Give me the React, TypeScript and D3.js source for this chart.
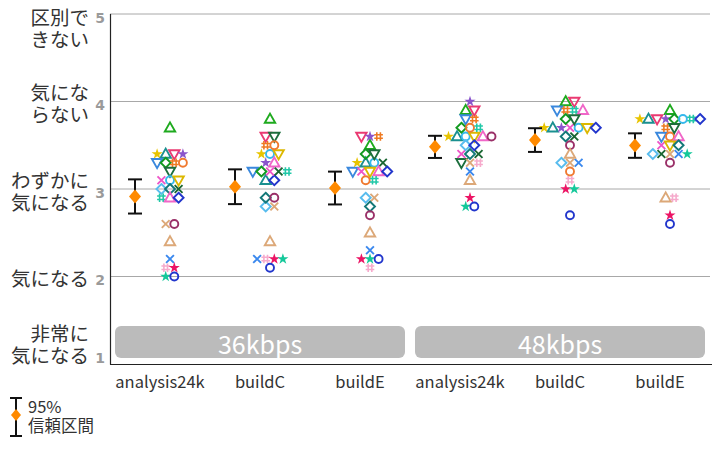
import * as d3 from "d3"

// conditions along x, two bitrate bands of three
const conditions = ["analysis24k", "buildC", "buildE", "analysis24k", "buildC", "buildE"]
const bitrates = ["36kbps", "48kbps"]

const yTicks = [1, 2, 3, 4, 5]
const yTickLabels = [
  ["非常に", "気になる"],
  ["気になる"],
  ["わずかに", "気になる"],
  ["気にな", "らない"],
  ["区別で", "きない"],
]

// one marker per listener (shape + colour)
const markerShapes = [
  "triUp", "star", "triUp", "triDown", "star", "triDown", "diamond", "hash", "circle",
  "triDown", "x", "circle", "triDown", "diamond", "diamond", "x", "hash", "triUp",
  "diamond", "x", "circle", "triUp", "x", "hash", "star", "star", "circle",
]
const markerColors = [
  "#1eaa1e", "#e8c400", "#1a9090", "#ea3a72", "#8a55cc", "#3a88dd", "#129a20", "#ee7a22", "#f07a30",
  "#1c6e3c", "#ee55c8", "#36b8ec", "#dcb800", "#58bcee", "#137878", "#1a6632", "#22c8a8", "#f066c8",
  "#2236cc", "#dca878", "#9a3068", "#dca878", "#3a88ee", "#f6aacc", "#ec1464", "#14c89a", "#2236cc",
]

// scores per condition, in listener order
const scores36Analysis = [3.7, 3.4, 3.4, 3.4, 3.4, 3.3, 3.3, 3.3, 3.3, 3.2, 3.1, 3.1, 3.1, 3.0, 3.0, 3.0, 2.9, 2.9, 2.9, 2.6, 2.6, 2.4, 2.2, 2.1, 2.1, 2.0, 2.0]
const scores36BuildC = [3.8, 3.4, 3.1, 3.6, 3.3, 3.2, 3.2, 3.5, 3.5, 3.6, 3.2, 3.4, 3.4, 2.8, 2.9, 3.2, 3.2, 3.3, 3.1, 2.8, 2.9, 2.4, 2.2, 2.2, 2.2, 2.2, 2.1]
const scores36BuildE = [3.5, 3.3, 3.3, 3.6, 3.6, 3.2, 3.4, 3.6, 3.1, 3.4, 3.2, 3.3, 3.2, 2.9, 2.8, 3.3, 3.1, 3.2, 3.2, 2.9, 2.7, 2.5, 2.3, 2.1, 2.2, 2.2, 2.2]
const scores48Analysis = [3.9, 3.6, 3.6, 3.9, 4.0, 3.8, 3.7, 3.8, 3.7, 3.3, 3.4, 3.6, 3.6, 3.5, 3.4, 3.4, 3.7, 3.6, 3.5, 3.3, 3.6, 3.1, 3.2, 3.3, 2.9, 2.8, 2.8]
const scores48BuildC = [4.0, 3.7, 3.7, 4.0, 3.7, 3.9, 3.8, 3.9, 3.2, 3.8, 3.7, 3.7, 3.7, 3.3, 3.6, 3.6, 3.9, 3.9, 3.7, 3.3, 3.5, 3.4, 3.3, 3.1, 3.0, 3.0, 2.7]
const scores48BuildE = [3.9, 3.8, 3.8, 3.8, 3.8, 3.6, 3.8, 3.7, 3.6, 3.7, 3.5, 3.8, 3.5, 3.4, 3.5, 3.4, 3.8, 3.6, 3.8, 3.4, 3.3, 2.9, 3.4, 2.9, 2.7, 3.4, 2.6]

const allScores = [scores36Analysis, scores36BuildC, scores36BuildE, scores48Analysis, scores48BuildC, scores48BuildE]

const W = 720
const H = 450
const JP = "'Noto Sans CJK JP', 'Noto Sans', sans-serif"
// latin font first keeps the line box tight; kana/kanji fall back to Noto CJK
const JP_TIGHT = "'DejaVu Sans', 'Noto Sans CJK JP', sans-serif"

function markerPath(shape: string): string {
  switch (shape) {
    case "triUp":
      return "M0,-5.4L5.2,3.7L-5.2,3.7Z"
    case "triDown":
      return "M0,5.4L5.2,-3.7L-5.2,-3.7Z"
    case "diamond":
      return "M0,-5L5,0L0,5L-5,0Z"
    case "x":
      return "M-3.9,-3.9L3.9,3.9M3.9,-3.9L-3.9,3.9"
    case "hash":
      return "M-1.8,-4.3L-1.8,4.3M1.8,-4.3L1.8,4.3M-4.3,-1.8L4.3,-1.8M-4.3,1.8L4.3,1.8"
    case "star":
      return d3.symbol().type(d3.symbolStar).size(38)() || ""
    default:
      return d3.symbol().type(d3.symbolCircle).size(50)() || ""
  }
}

export default function App() {
  const x = d3.scaleBand<number>().domain(d3.range(conditions.length)).range([110, 710])
  const y = d3.scaleLinear().domain([1, 5]).range([364, 14])
  const bw = x.bandwidth()
  const tCrit = 2.056

  const stats = allScores.map((s) => {
    const m = d3.mean(s) as number
    const sd = d3.deviation(s) as number
    const h = (tCrit * sd) / Math.sqrt(s.length)
    return { m, lo: m - h, hi: m + h }
  })

  // lay markers out in rows, one row per score level
  const points = allScores.flatMap((s, g) => {
    const rows = d3.group(d3.range(s.length), (i) => Math.round(s[i] * 10))
    const cx = (x(g) as number) + bw / 2 + 10
    const out: { px: number; py: number; i: number }[] = []
    rows.forEach((ids) => {
      ids.forEach((i, k) => {
        out.push({ px: cx + (k - (ids.length - 1) / 2) * 8.6, py: y(s[i]), i })
      })
    })
    return out
  })

  return (
    <svg width={W} height={H} style={{ position: "absolute", left: 0, top: 0, background: "#fff" }}>
      {/* grid */}
      {yTicks.slice(1).map((t) => (
        <line key={t} x1={110} x2={710} y1={y(t)} y2={y(t)} stroke="#a8a8a8" strokeWidth={1} />
      ))}

      {/* bitrate bands */}
      {bitrates.map((b, k) => {
        const x0 = (x(k * 3) as number) + 5
        const x1 = (x(k * 3 + 2) as number) + bw - 5
        return (
          <g key={b}>
            <rect x={x0} y={326} width={x1 - x0} height={32} rx={6} fill="#bbbbbb" />
            <text x={(x0 + x1) / 2} y={343} textAnchor="middle" dominantBaseline="central"
              fill="#fff" fontSize={25} fontFamily={JP}>{b}</text>
          </g>
        )
      })}

      {/* axes */}
      <line x1={110.5} x2={110.5} y1={14} y2={364.5} stroke="#222" strokeWidth={1.2} />
      <line x1={110} x2={712} y1={364.5} y2={364.5} stroke="#222" strokeWidth={1.2} />

      {/* y tick numbers and labels */}
      {yTicks.map((t, k) => {
        const ty = Math.min(y(t) + 3.5, 358)
        const lines = yTickLabels[k]
        const lh = 22
        let top = y(t) - (lines.length * lh) / 2 + 3
        top = Math.max(top, 7)
        top = Math.min(top, 367 - lines.length * lh)
        return (
          <g key={t}>
            <text x={100} y={ty} textAnchor="middle" dominantBaseline="central" fontSize={14}
              fontWeight="bold" fill="#9a9a9a" fontFamily="'DejaVu Sans', sans-serif">{t}</text>
            {lines.map((l, j) => (
              <text key={j} x={89} y={top + lh / 2 + j * lh} textAnchor="end" dominantBaseline="central"
                fontSize={19.5} fill="#333" fontFamily={JP_TIGHT}>{l}</text>
            ))}
          </g>
        )
      })}

      {/* x labels */}
      {conditions.map((c, g) => (
        <text key={g} x={(x(g) as number) + bw / 2} y={381} textAnchor="middle" dominantBaseline="central"
          fontSize={16.5} fill="#333" fontFamily={JP}>{c}</text>
      ))}

      {/* listener markers */}
      {points.map((p, k) => {
        const shape = markerShapes[p.i]
        const col = markerColors[p.i]
        const filled = shape === "star"
        return (
          <path key={k} d={markerPath(shape)} transform={`translate(${p.px},${p.py})`}
            fill={filled ? col : "none"} stroke={filled ? "none" : col}
            strokeWidth={shape === "hash" ? 1.6 : 1.9} />
        )
      })}

      {/* mean and 95% CI */}
      {stats.map((s, g) => {
        const cx = (x(g) as number) + bw / 2 - 25
        return (
          <g key={g}>
            <line x1={cx} x2={cx} y1={y(s.hi)} y2={y(s.lo)} stroke="#111" strokeWidth={2} />
            <line x1={cx - 7} x2={cx + 7} y1={y(s.hi)} y2={y(s.hi)} stroke="#111" strokeWidth={2} />
            <line x1={cx - 7} x2={cx + 7} y1={y(s.lo)} y2={y(s.lo)} stroke="#111" strokeWidth={2} />
            <path d="M0,-7L6,0L0,7L-6,0Z" transform={`translate(${cx},${y(s.m)})`} fill="#ff8a00" />
          </g>
        )
      })}

      {/* legend */}
      <g>
        <line x1={16} x2={16} y1={398} y2={436} stroke="#111" strokeWidth={2} />
        <line x1={10} x2={22} y1={398} y2={398} stroke="#111" strokeWidth={2} />
        <line x1={10} x2={22} y1={436} y2={436} stroke="#111" strokeWidth={2} />
        <path d="M0,-6L5,0L0,6L-5,0Z" transform="translate(16,415)" fill="#ff8a00" />
        <text x={28} y={406} dominantBaseline="central" fontSize={16.5} fill="#333" fontFamily={JP}>95%</text>
        <text x={28} y={426} dominantBaseline="central" fontSize={16.5} fill="#333" fontFamily={JP_TIGHT}>信頼区間</text>
      </g>
    </svg>
  )
}
